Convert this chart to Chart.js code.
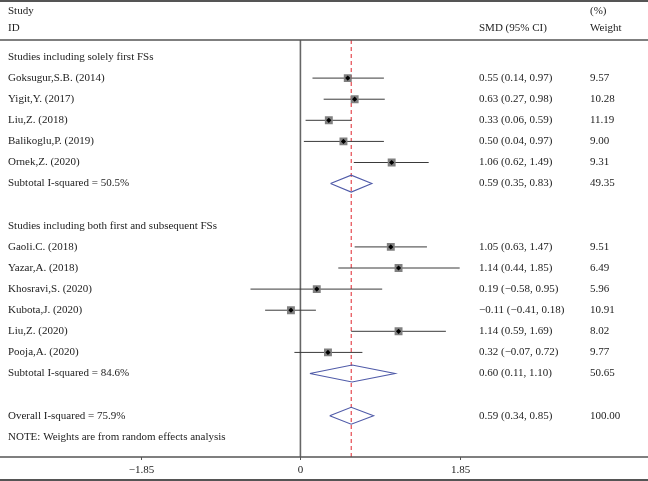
<!DOCTYPE html>
<html>
<head>
<meta charset="utf-8">
<script src="https://cdn.jsdelivr.net/npm/chart.js@4.4.1/dist/chart.umd.min.js"></script>
<style>
html,body{margin:0;padding:0;background:#fff;}
#wrap{width:648px;height:481px;}
</style>
</head>
<body>
<div id="wrap"><canvas id="c" width="648" height="481"></canvas></div>
<script>
// ---- data ----
const rowLabels = [
  "Studies including solely first FSs",
  "Goksugur,S.B. (2014)",
  "Yigit,Y. (2017)",
  "Liu,Z. (2018)",
  "Balikoglu,P. (2019)",
  "Ornek,Z. (2020)",
  "Subtotal I-squared = 50.5%",
  "",
  "Studies including both first and subsequent FSs",
  "Gaoli.C. (2018)",
  "Yazar,A. (2018)",
  "Khosravi,S. (2020)",
  "Kubota,J. (2020)",
  "Liu,Z. (2020)",
  "Pooja,A. (2020)",
  "Subtotal I-squared = 84.6%",
  "",
  "Overall I-squared = 75.9%",
  "NOTE: Weights are from random effects analysis"
];
// study rows
const studyRows = [1, 2, 3, 4, 5, 9, 10, 11, 12, 13, 14];
const studySMD  = [0.55, 0.63, 0.33, 0.50, 1.06, 1.05, 1.14, 0.19, -0.11, 1.14, 0.32];
const studyLo   = [0.14, 0.27, 0.06, 0.04, 0.62, 0.63, 0.44, -0.58, -0.41, 0.59, -0.07];
const studyHi   = [0.97, 0.98, 0.59, 0.97, 1.49, 1.47, 1.85, 0.95, 0.18, 1.69, 0.72];
const studyWeight = ["9.57", "10.28", "11.19", "9.00", "9.31", "9.51", "6.49", "5.96", "10.91", "8.02", "9.77"];
// pooled rows (subtotals + overall)
const poolRows = [6, 15, 17];
const poolSMD  = [0.59, 0.60, 0.59];
const poolLo   = [0.35, 0.11, 0.34];
const poolHi   = [0.83, 1.10, 0.85];
const poolWeight = ["49.35", "50.65", "100.00"];
const overallSMD = 0.59;
const xTicks = [-1.85, 0, 1.85];
const xTickLabels = ["\u22121.85", "0", "1.85"];

// ---- helpers ----
function fmt(v){ return (v < 0 ? "\u2212" : "") + Math.abs(v).toFixed(2); }
function ciText(e, l, h){ return fmt(e) + " (" + fmt(l) + ", " + fmt(h) + ")"; }

const Y_MIN = -0.806, Y_MAX = 18.957;
const X_MIN = -3.4247, X_MAX = 3.9726;
const DIA_H = 0.4;

const datasets = [];
// center dots
datasets.push({
  type: 'scatter', order: -2,
  data: studyRows.map((r, i) => ({x: studySMD[i], y: r})),
  pointStyle: 'rectRot', pointRadius: 2.6, pointHoverRadius: 2.6,
  backgroundColor: '#000', borderColor: '#000', borderWidth: 0
});
// grey squares
datasets.push({
  type: 'scatter', order: -1,
  data: studyRows.map((r, i) => ({x: studySMD[i], y: r})),
  pointStyle: 'rect', pointRadius: 5.6, pointHoverRadius: 5.6,
  backgroundColor: '#808080', borderColor: '#808080', borderWidth: 0
});
// CI lines
studyRows.forEach((r, i) => {
  datasets.push({
    type: 'line', order: 3,
    data: [{x: studyLo[i], y: r}, {x: studyHi[i], y: r}],
    borderColor: '#3a3a3a', borderWidth: 1, pointRadius: 0, fill: false, tension: 0
  });
});
// diamonds
poolRows.forEach((r, i) => {
  datasets.push({
    type: 'line', order: 2,
    data: [
      {x: poolLo[i], y: r}, {x: poolSMD[i], y: r - DIA_H},
      {x: poolHi[i], y: r}, {x: poolSMD[i], y: r + DIA_H},
      {x: poolLo[i], y: r}
    ],
    borderColor: '#4f5aa8', borderWidth: 1.1, pointRadius: 0, fill: false, tension: 0
  });
});
// overall red dashed line
datasets.push({
  type: 'line', order: 4,
  data: [{x: overallSMD, y: Y_MIN}, {x: overallSMD, y: Y_MAX}],
  borderColor: '#e0262e', borderWidth: 1, borderDash: [4, 3], pointRadius: 0, fill: false
});
// zero line
datasets.push({
  type: 'line', order: 5,
  data: [{x: 0, y: Y_MIN}, {x: 0, y: Y_MAX}],
  borderColor: '#666', borderWidth: 1.6, pointRadius: 0, fill: false
});

const FONT = '11px "Liberation Serif", "DejaVu Serif", serif';
const TXT = '#222';
const textPlugin = {
  id: 'forestText',
  afterDraw(chart){
    const ctx = chart.ctx;
    const xs = chart.scales.x, ys = chart.scales.y;
    const W = chart.width;
    ctx.save();
    // borders
    ctx.strokeStyle = '#555';
    ctx.lineWidth = 2;
    ctx.beginPath(); ctx.moveTo(0, 1); ctx.lineTo(W, 1); ctx.stroke();
    ctx.beginPath(); ctx.moveTo(0, 480); ctx.lineTo(W, 480); ctx.stroke();
    ctx.lineWidth = 1.5;
    const top = chart.chartArea.top, bot = chart.chartArea.bottom;
    ctx.beginPath(); ctx.moveTo(0, top); ctx.lineTo(W, top); ctx.stroke();
    ctx.beginPath(); ctx.moveTo(0, bot); ctx.lineTo(W, bot); ctx.stroke();
    // ticks
    ctx.lineWidth = 1;
    ctx.fillStyle = TXT;
    ctx.font = FONT;
    ctx.textBaseline = 'middle';
    ctx.textAlign = 'center';
    xTicks.forEach((t, k) => {
      const px = Math.round(xs.getPixelForValue(t)) + 0.5;
      ctx.beginPath(); ctx.moveTo(px, bot); ctx.lineTo(px, bot + 3); ctx.stroke();
      ctx.fillText(xTickLabels[k], px, 470);
    });
    // header
    ctx.textAlign = 'left';
    ctx.fillText('Study', 8, 11);
    ctx.fillText('ID', 8, 28);
    ctx.fillText('SMD (95% CI)', 479, 28);
    ctx.fillText('(%)', 590, 11);
    ctx.fillText('Weight', 590, 28);
    // row labels
    rowLabels.forEach((s, r) => {
      if (s) ctx.fillText(s, 8, ys.getPixelForValue(r));
    });
    studyRows.forEach((r, i) => {
      const py = ys.getPixelForValue(r);
      ctx.fillText(ciText(studySMD[i], studyLo[i], studyHi[i]), 479, py);
      ctx.fillText(studyWeight[i], 590, py);
    });
    poolRows.forEach((r, i) => {
      const py = ys.getPixelForValue(r);
      ctx.fillText(ciText(poolSMD[i], poolLo[i], poolHi[i]), 479, py);
      ctx.fillText(poolWeight[i], 590, py);
    });
    ctx.restore();
  }
};

new Chart(document.getElementById('c'), {
  type: 'scatter',
  data: { datasets },
  options: {
    responsive: false,
    animation: false,
    devicePixelRatio: 1,
    layout: { padding: { top: 40, bottom: 24, left: 0, right: 0 } },
    plugins: { legend: { display: false }, tooltip: { enabled: false } },
    scales: {
      x: { type: 'linear', min: X_MIN, max: X_MAX, display: false },
      y: { type: 'linear', min: Y_MIN, max: Y_MAX, reverse: true, display: false }
    },
    elements: { line: { borderCapStyle: 'butt' } }
  },
  plugins: [textPlugin]
});
</script>
</body>
</html>
